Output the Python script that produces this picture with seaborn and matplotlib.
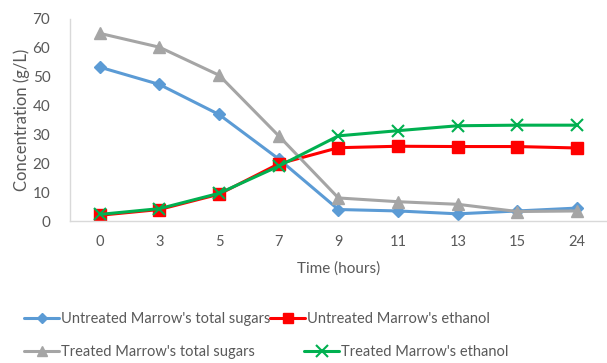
import matplotlib
matplotlib.use("Agg")
import matplotlib.pyplot as plt
import seaborn as sns
from matplotlib.lines import Line2D

hours = ["0", "3", "5", "7", "9", "11", "13", "15", "24"]
untreated_sugars = [53.3, 47.3, 36.9, 21.5, 4.0, 3.5, 2.5, 3.5, 4.5]
untreated_ethanol = [2.0, 4.0, 9.3, 19.8, 25.4, 25.9, 25.8, 25.8, 25.3]
treated_sugars = [65.0, 60.2, 50.5, 29.5, 8.0, 6.7, 5.8, 3.3, 3.5]
treated_ethanol = [2.3, 4.3, 9.6, 19.0, 29.5, 31.3, 33.0, 33.2, 33.2]
labels = ["Untreated Marrow's total sugars", "Untreated Marrow's ethanol",
          "Treated Marrow's total sugars", "Treated Marrow's ethanol"]

sns.set_style("white")
plt.rcParams['font.family'] = ['Lato', 'DejaVu Sans']
txt = "#595959"

fig = plt.figure(figsize=(6.07, 3.63), dpi=100)
ax = fig.add_axes([0.115, 0.391, 0.885, 0.557])

styles = [
    (untreated_sugars, "#5B9BD5", "D", 6.5, 1.0),
    (untreated_ethanol, "#FF0000", "s", 8, 1.0),
    (treated_sugars, "#A5A5A5", "^", 8, 1.0),
    (treated_ethanol, "#00B050", "x", 9, 1.5),
]
handles = []
for (vals, col, mk, ms, mew), lab in zip(styles, labels):
    sns.lineplot(x=hours, y=vals, ax=ax, color=col, marker=mk, markersize=ms,
                 markeredgecolor=col, markeredgewidth=mew, linewidth=2.2,
                 sort=False, legend=False)
    handles.append(Line2D([], [], color=col, marker=mk, markersize=ms - 1,
                          markeredgecolor=col, markeredgewidth=mew, linewidth=2.2, label=lab))

ax.set_xlim(-0.5, 8.5)
ax.set_ylim(0, 70)
ax.set_yticks(range(0, 71, 10))
for s in ["top", "right"]:
    ax.spines[s].set_visible(False)
for s in ["bottom", "left"]:
    ax.spines[s].set_color("#D9D9D9")
    ax.spines[s].set_linewidth(1)
ax.tick_params(axis="y", length=0, labelsize=11, colors=txt, pad=14)
ax.tick_params(axis="x", length=0, labelsize=10.5, colors=txt, pad=10)
ax.set_xlabel("Time (hours)", fontsize=11, color=txt, labelpad=9)
ax.set_ylabel("Concentration (g/L)", fontsize=12, color=txt, labelpad=2)

kw = dict(frameon=False, fontsize=10.5, handlelength=2.4, handletextpad=0.1,
          labelcolor=txt, ncol=2, borderaxespad=0, borderpad=0)
leg1 = fig.legend(handles=handles[:2], loc="center left", bbox_to_anchor=(0.04, 0.121),
                  columnspacing=0.0, **kw)
leg2 = fig.legend(handles=handles[2:], loc="center left", bbox_to_anchor=(0.04, 0.03),
                  columnspacing=3.4, **kw)

fig.savefig("out.png", dpi=100)
